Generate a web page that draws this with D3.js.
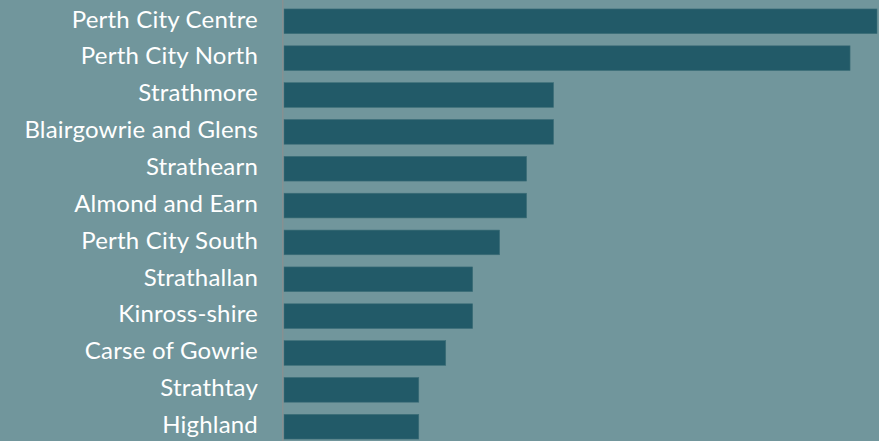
<!DOCTYPE html>
<html>
<head>
<meta charset="utf-8">
<script src="https://cdn.jsdelivr.net/npm/d3@7"></script>
<style>
  body { margin: 0; background: #71969c; }
  svg { display: block; }
</style>
</head>
<body>
<div id="chart"></div>
<script>
var wards = ["Perth City Centre", "Perth City North", "Strathmore", "Blairgowrie and Glens",
             "Strathearn", "Almond and Earn", "Perth City South", "Strathallan",
             "Kinross-shire", "Carse of Gowrie", "Strathtay", "Highland"];
var counts = [22, 21, 10, 10, 9, 9, 8, 7, 7, 6, 5, 5];

var width = 879;
var height = 441;
var left = 284;

var svg = d3.select("#chart")
            .append("svg")
            .attr("width", width)
            .attr("height", height);

svg.append("rect")
   .attr("width", width)
   .attr("height", height)
   .attr("fill", "#71969c");

var x = d3.scaleLinear()
          .domain([0, 22])
          .range([left, 877]);

var y = d3.scaleBand()
          .domain(wards)
          .range([-3.2, 451.2])
          .padding(0.33);

svg.selectAll("rect.bar")
   .data(counts)
   .enter()
   .append("rect")
   .attr("class", "bar")
   .attr("x", x(0))
   .attr("y", function(d, i) { return y(wards[i]); })
   .attr("width", function(d) { return x(d) - x(0); })
   .attr("height", y.bandwidth())
   .attr("fill", "#225a68")
   .attr("stroke", "#3d6e78")
   .attr("stroke-width", 0.6);

// axis line
svg.append("line")
   .attr("x1", 282.8).attr("x2", 282.8)
   .attr("y1", 0).attr("y2", height)
   .attr("stroke", "#8c8f90")
   .attr("stroke-width", 1.2);

svg.selectAll("text.label")
   .data(wards)
   .enter()
   .append("text")
   .attr("class", "label")
   .text(function(d) { return d; })
   .attr("x", 258)
   .attr("y", function(d) { return y(d) + y.bandwidth() / 2; })
   .attr("dy", 6.3)
   .attr("text-anchor", "end")
   .attr("font-family", "Lato, sans-serif")
   .attr("font-size", 24)
   .attr("letter-spacing", 0.2)
   .attr("fill", "#ffffff");
</script>
</body>
</html>
